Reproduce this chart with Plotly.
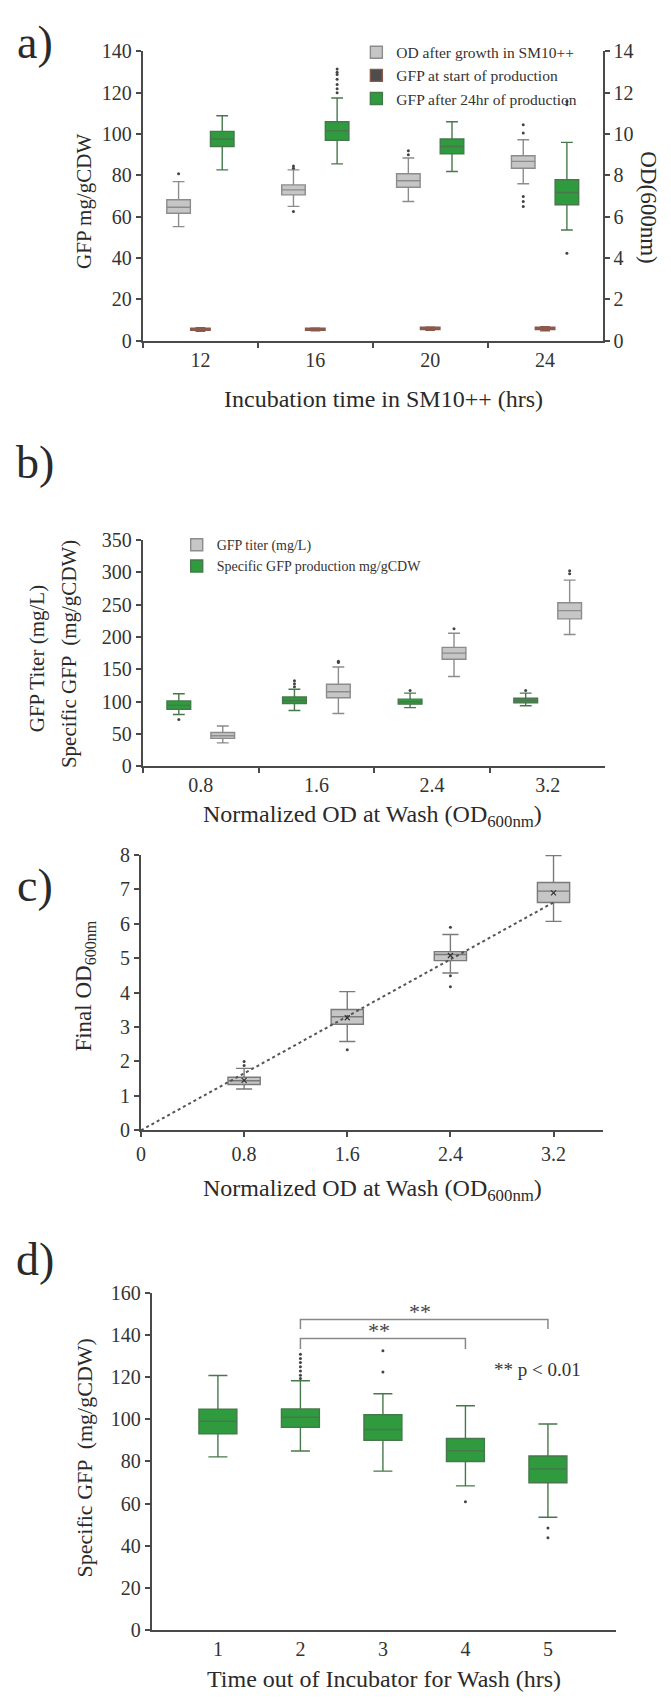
import plotly.graph_objects as go

W, H = 671, 1701
FONT = "Liberation Serif"

# ---------------- data ----------------
# Panel a
A_cats = ["12", "16", "20", "24"]
A_od_q1 = [6.17, 7.06, 7.43, 8.35]
A_od_med = [6.46, 7.30, 7.74, 8.68]
A_od_q3 = [6.82, 7.54, 8.08, 8.95]
A_od_lo = [5.52, 6.50, 6.74, 7.60]
A_od_hi = [7.70, 8.27, 8.84, 9.73]
A_od_out = [[8.08], [8.46, 8.35, 6.25], [9.20, 9.00], [10.45, 10.05, 6.98, 6.74, 6.50]]

A_st_q1 = [5.0, 5.0, 5.4, 5.4]
A_st_med = [5.5, 5.5, 6.0, 6.0]
A_st_q3 = [6.0, 6.0, 6.5, 6.5]
A_st_lo = [4.6, 4.8, 5.0, 4.8]
A_st_hi = [6.3, 6.2, 6.6, 6.8]
A_st_out = [[None], [None], [None], [None]]

A_gf_q1 = [94.0, 97.0, 90.5, 65.8]
A_gf_med = [97.6, 101.6, 94.0, 71.7]
A_gf_q3 = [101.3, 106.0, 97.6, 77.9]
A_gf_lo = [82.7, 85.6, 81.9, 53.6]
A_gf_hi = [108.9, 117.5, 106.0, 96.0]
A_gf_out = [[None], [131.5, 130.0, 128.8, 126.5, 124.0, 122.0, 120.0], [None], [115.8, 114.2, 42.3]]

# Panel b
B_cats = ["0.8", "1.6", "2.4", "3.2"]
B_sp_q1 = [88.0, 97.0, 95.9, 98.0]
B_sp_med = [94.0, 101.6, 99.6, 101.6]
B_sp_q3 = [101.0, 107.0, 103.7, 105.0]
B_sp_lo = [80.0, 86.0, 90.5, 93.4]
B_sp_hi = [112.0, 119.0, 113.0, 113.0]
B_sp_out = [[72.0], [132.0, 127.6, 123.0], [117.0], [117.0]]

B_ti_q1 = [43.0, 105.8, 165.4, 228.0]
B_ti_med = [47.0, 115.2, 174.9, 240.7]
B_ti_q3 = [52.0, 126.7, 183.9, 253.0]
B_ti_lo = [36.0, 81.5, 138.7, 203.7]
B_ti_hi = [62.0, 153.5, 205.8, 288.0]
B_ti_out = [[None], [162.5, 160.5], [212.8], [302.5, 298.0]]

# Panel c
C_x = [0.8, 1.6, 2.4, 3.2]
C_q1 = [1.33, 3.08, 4.93, 6.62]
C_med = [1.44, 3.30, 5.11, 6.95]
C_q3 = [1.54, 3.51, 5.19, 7.20]
C_lo = [1.20, 2.58, 4.57, 6.07]
C_hi = [1.80, 4.03, 5.69, 7.98]
C_out = [[2.0, 1.88], [2.34], [5.90, 4.49, 4.17], [None]]
C_mean = [1.45, 3.27, 5.08, 6.90]
C_trend_x = [0.0, 3.2]
C_trend_y = [0.0, 6.62]

# Panel d
D_x = [1, 2, 3, 4, 5]
D_q1 = [93.2, 96.2, 90.1, 80.0, 69.9]
D_med = [99.1, 101.0, 95.2, 85.1, 76.4]
D_q3 = [104.9, 105.0, 102.2, 90.9, 82.6]
D_lo = [82.2, 85.0, 75.4, 68.4, 53.5]
D_hi = [120.9, 118.4, 112.2, 106.5, 97.8]
D_out = [[None], [131.0, 129.0, 127.0, 125.0, 123.0, 121.0, 119.5], [132.6, 122.5], [60.9], [48.4, 43.8]]
D_brackets = [(2, 5, 147.5, 143.0), (2, 4, 138.5, 133.5)]

# ---------------- styles ----------------
GREY_FILL, GREY_LINE = "#c6c6c6", "#8c8c8c"
GREEN_FILL, GREEN_LINE = "#2f9a3e", "#46784b"
DARK_FILL, DARK_LINE = "#4d4d4d", "#8b5a4c"
AX = "#4a4a4a"


def dx(px):
    return px / W


def dy(py):
    return 1 - py / H


def box(cats, q1, med, q3, lo, hi, out, fill, line, **kw):
    return go.Box(
        x=cats, y=out,
        q1=q1, median=med, q3=q3, lowerfence=lo, upperfence=hi,
        boxpoints="outliers", jitter=0, pointpos=0,
        fillcolor=fill, line=dict(color=line, width=1.4),
        marker=dict(color="#444", size=3),
        orientation="v", **kw)


fig = go.Figure()

# Panel a
fig.add_trace(box(A_cats, A_od_q1, A_od_med, A_od_q3, A_od_lo, A_od_hi, A_od_out,
                  GREY_FILL, GREY_LINE, name="OD after growth in SM10++",
                  xaxis="x", yaxis="y2", alignmentgroup="a", offsetgroup="a1",
                  legend="legend", legendrank=1))
fig.add_trace(box(A_cats, A_st_q1, A_st_med, A_st_q3, A_st_lo, A_st_hi, A_st_out,
                  DARK_FILL, DARK_LINE, name="GFP at start of production",
                  xaxis="x", yaxis="y", width=0.17, legend="legend", legendrank=2))
fig.add_trace(box(A_cats, A_gf_q1, A_gf_med, A_gf_q3, A_gf_lo, A_gf_hi, A_gf_out,
                  GREEN_FILL, GREEN_LINE, name="GFP after 24hr of production",
                  xaxis="x", yaxis="y", alignmentgroup="a", offsetgroup="a3",
                  legend="legend", legendrank=3))

# Panel b (green drawn first so it sits on the left of each pair)
fig.add_trace(box(B_cats, B_sp_q1, B_sp_med, B_sp_q3, B_sp_lo, B_sp_hi, B_sp_out,
                  GREEN_FILL, GREEN_LINE, name="Specific GFP production mg/gCDW",
                  xaxis="x3", yaxis="y3", alignmentgroup="b", offsetgroup="b1",
                  legend="legend2", legendrank=2))
fig.add_trace(box(B_cats, B_ti_q1, B_ti_med, B_ti_q3, B_ti_lo, B_ti_hi, B_ti_out,
                  GREY_FILL, GREY_LINE, name="GFP titer (mg/L)",
                  xaxis="x3", yaxis="y3", alignmentgroup="b", offsetgroup="b2",
                  legend="legend2", legendrank=1))

# Panel c
fig.add_trace(go.Scatter(x=C_trend_x, y=C_trend_y, mode="lines", xaxis="x4", yaxis="y4",
                         line=dict(color="#555", width=2, dash="dot"), showlegend=False))
fig.add_trace(box(C_x, C_q1, C_med, C_q3, C_lo, C_hi, C_out, GREY_FILL, "#7a7a7a",
                  xaxis="x4", yaxis="y4", width=0.25, showlegend=False))
fig.add_trace(go.Scatter(x=C_x, y=C_mean, mode="markers", xaxis="x4", yaxis="y4",
                         marker=dict(symbol="x-thin", size=5, line=dict(color="#333", width=1.2)),
                         showlegend=False))

# Panel d
fig.add_trace(box(D_x, D_q1, D_med, D_q3, D_lo, D_hi, D_out, GREEN_FILL, GREEN_LINE,
                  xaxis="x5", yaxis="y5", width=0.46, showlegend=False))

axis_common = dict(showline=True, linecolor=AX, linewidth=2.2, ticks="outside",
                   tickcolor=AX, tickwidth=2, ticklen=5, showgrid=False, zeroline=False,
                   tickfont=dict(family=FONT, size=20, color="#333"))

A_TOP, A_BOT = 41, 334
B_TOP, B_BOT = 536, 765
C_TOP, C_BOT = 855, 1134
D_TOP, D_BOT = 1299, 1640

layout = dict(
    width=W, height=H, margin=dict(l=0, r=0, t=0, b=0),
    paper_bgcolor="white", plot_bgcolor="white",
    font=dict(family=FONT, color="#333"),
    boxmode="group", boxgap=0.24, boxgroupgap=0.46,
    xaxis=dict(domain=[dx(139), dx(602)], anchor="y", type="category", tickson="boundaries",
               range=[-0.5, 3.5], **axis_common),
    yaxis=dict(domain=[dy(A_BOT), dy(A_TOP)], anchor="x", range=[0, 140], dtick=20, **axis_common),
    yaxis2=dict(overlaying="y", side="right", anchor="x", range=[0, 14], dtick=2, **axis_common),
    xaxis3=dict(domain=[dx(139), dx(605)], anchor="y3", type="category", tickson="boundaries",
                range=[-0.5, 3.5], **axis_common),
    yaxis3=dict(domain=[dy(B_BOT), dy(B_TOP)], anchor="x3", range=[0, 350], dtick=50, **axis_common),
    xaxis4=dict(domain=[dx(137), dx(602)], anchor="y4", range=[0, 3.58],
                tickvals=[0, 0.8, 1.6, 2.4, 3.2], ticktext=["0", "0.8", "1.6", "2.4", "3.2"],
                **axis_common),
    yaxis4=dict(domain=[dy(C_BOT), dy(C_TOP)], anchor="x4", range=[0, 8], dtick=1, **axis_common),
    xaxis5=dict(domain=[dx(148), dx(616)], anchor="y5", range=[0.2, 5.83],
                tickvals=D_x, **{**axis_common, "ticks": ""}),
    yaxis5=dict(domain=[dy(D_BOT), dy(D_TOP)], anchor="x5", range=[0, 160], dtick=20, **axis_common),
    legend=dict(x=dx(354), y=dy(25), xanchor="left", yanchor="top", bgcolor="rgba(0,0,0,0)",
                font=dict(family=FONT, size=15.5, color="#333"), tracegroupgap=0,
                itemwidth=30),
    legend2=dict(x=dx(173), y=dy(525), xanchor="left", yanchor="top", bgcolor="rgba(0,0,0,0)",
                 font=dict(family=FONT, size=14, color="#333"), tracegroupgap=2, itemwidth=30),
)
fig.update_layout(**layout)

ann = []


def text(x, y, s, size=20, angle=0, xanchor="center"):
    ann.append(dict(x=dx(x), y=dy(y), xref="paper", yref="paper", text=s, showarrow=False,
                    font=dict(family=FONT, size=size, color="#2a2a2a"), textangle=angle,
                    xanchor=xanchor, yanchor="middle"))


# panel labels
text(30, 32, "a)", 46)
text(30, 457, "b)", 46)
text(30, 886, "c)", 46)
text(30, 1265, "d)", 46)

# axis titles
text(79, 193, "GFP mg/gCDW", 21, -90)
text(648, 199, "OD(600nm)", 23, 90)
text(381, 393, "Incubation time in SM10++ (hrs)", 24)

text(32, 656, "GFP Titer (mg/L)", 21, -90)
text(64, 652, "Specific GFP  (mg/gCDW)", 21, -90)
text(370, 816, "Normalized OD at Wash (OD<sub>600nm</sub>)", 24)

text(81, 988, "Final OD<sub>600nm</sub>", 23, -90)
text(370, 1194, "Normalized OD at Wash (OD<sub>600nm</sub>)", 24)

text(80, 1466, "Specific GFP  (mg/gCDW)", 22, -90)
text(382, 1690, "Time out of Incubator for Wash (hrs)", 24)

fig.update_layout(annotations=ann)

# significance brackets in panel d
for x0, x1, ytop, yend in D_brackets:
    fig.add_shape(type="path", xref="x5", yref="y5",
                  path=f"M {x0},{yend} L {x0},{ytop} L {x1},{ytop} L {x1},{yend}",
                  line=dict(color="#888", width=1.5))
    fig.add_annotation(x=(x0 + x1) / 2 - 0.05, y=ytop, xref="x5", yref="y5", text="**",
                       showarrow=False, yanchor="bottom", yshift=-7,
                       font=dict(family=FONT, size=22, color="#444"))
fig.add_annotation(x=4.87, y=123.5, xref="x5", yref="y5", text="** p < 0.01", showarrow=False,
                   font=dict(family=FONT, size=19, color="#333"))

fig.write_html("out.html")
